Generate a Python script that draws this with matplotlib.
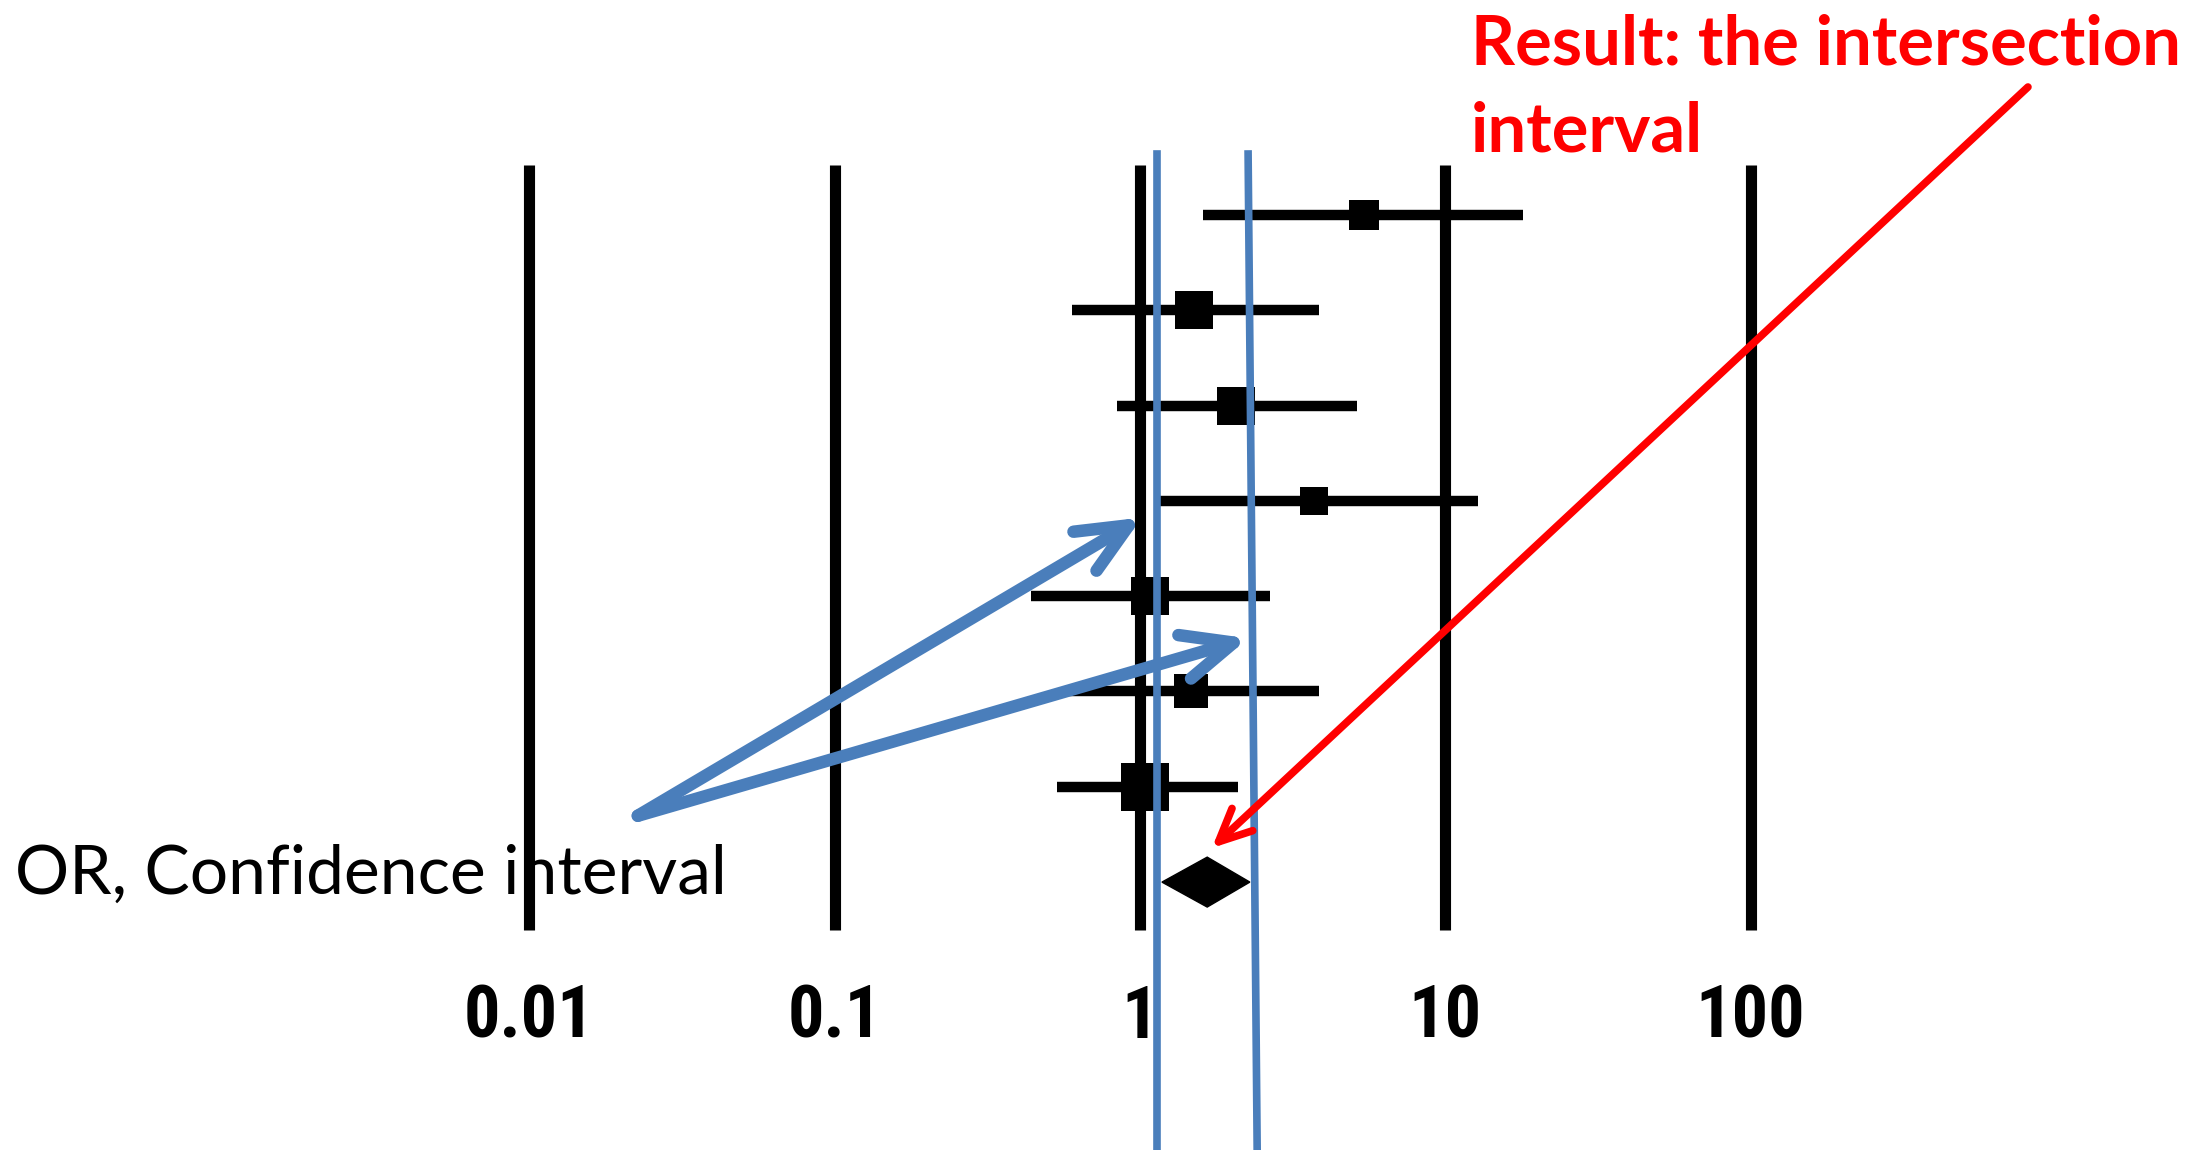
import matplotlib
matplotlib.use("Agg")
import matplotlib.pyplot as plt
from matplotlib import font_manager as fm
from matplotlib.patches import Polygon

# Individual studies, top to bottom: odds ratio and 95% confidence limits
odds_ratio = [5.40, 1.50, 2.06, 3.71, 1.08, 1.47, 1.04]
ci_lower = [1.61, 0.60, 0.84, 1.15, 0.44, 0.575, 0.536]
ci_upper = [18.0, 3.87, 5.13, 12.8, 2.67, 3.87, 2.10]

# Pooled estimate shown as a diamond
pooled_or = 1.66
pooled_lower = 1.18
pooled_upper = 2.29

# Guide lines bracketing the interval shared by the studies (top, bottom)
left_guide = (1.14, 1.14)
right_guide = (2.26, 2.42)

# Log-scale reference lines and their labels
tick_values = [0.01, 0.1, 1, 10, 100]
tick_labels = ["0.01", "0.1", "1", "10", "100"]

# Square size for each study (points)
square_sizes = [21, 28, 27, 20, 27, 25, 35]

BLUE = "#4A7EBB"
RED = "#FF0000"


def narrow_bold_font():
    """Pick a condensed sans-serif for the axis numbers, if one is installed."""
    names = {f.name for f in fm.fontManager.ttflist}
    for cand in ["Liberation Sans Narrow", "Arial Narrow", "Roboto Condensed",
                 "Open Sans Condensed", "Noto Sans Condensed"]:
        if cand in names:
            return fm.FontProperties(family=cand, weight="bold", size=52), True
    for f in fm.fontManager.ttflist:
        if f.stretch in ("condensed", "semi-condensed") and f.name in (
                "Liberation Sans", "Roboto", "Noto Sans", "Open Sans", "DejaVu Sans"):
            return fm.FontProperties(family=f.name, weight="bold",
                                     stretch=f.stretch, size=52), True
    return fm.FontProperties(family="Liberation Sans", weight="bold", size=47), False


W, H = 2198, 1150
fig = plt.figure(figsize=(W / 100, H / 100), dpi=100)
ax = fig.add_axes([0, 1 - 960 / H, 1, 960 / H])
ax.set_xscale("log")
ax.set_xlim(10 ** (-1140 / 305.3), 10 ** ((W - 1140) / 305.3))
ax.set_ylim(745 / 95.3, -215 / 95.3)
for s in ax.spines.values():
    s.set_visible(False)
ax.set_yticks([])
ax.set_xticks(tick_values)
ax.set_xticklabels(tick_labels)
ax.xaxis.set_minor_locator(matplotlib.ticker.NullLocator())
ax.tick_params(axis="x", length=0, pad=17)
tick_font, _ = narrow_bold_font()
for lab in ax.get_xticklabels():
    lab.set_fontproperties(tick_font)

n = len(odds_ratio)
rows = list(range(n))
grid_top, grid_bottom = -0.525, n + 0.503

# vertical reference lines at each decade
ax.vlines(tick_values, grid_top, grid_bottom, color="black", lw=8, zorder=1)

# confidence intervals and point estimates
ax.hlines(rows, ci_lower, ci_upper, color="black", lw=7.5, zorder=2)
for r, v, s in zip(rows, odds_ratio, square_sizes):
    ax.plot(v, r, marker="s", ms=s, mew=0, color="black", zorder=3)

# pooled diamond
yd = n
h = 0.262
ax.add_patch(Polygon([(pooled_lower, yd), (pooled_or, yd - h),
                      (pooled_upper, yd), (pooled_or, yd + h)],
                     closed=True, facecolor="black", edgecolor="black",
                     lw=1, zorder=3))

# blue guide lines running to the bottom of the figure
y_top_guide, y_bottom_guide = -0.64, (H - 215) / 95.3
ax.plot(left_guide, [y_top_guide, y_bottom_guide], color=BLUE, lw=5.5,
        clip_on=False, zorder=4)
ax.plot(right_guide, [y_top_guide, y_bottom_guide], color=BLUE, lw=5.5,
        clip_on=False, zorder=4)

# annotation arrows
tail = (0.02265, 6.304)
for head in [(1.015, 3.174), (2.263, 4.442)]:
    ax.annotate("", xy=head, xytext=tail, annotation_clip=False,
                arrowprops=dict(arrowstyle="->, head_length=1, head_width=0.445",
                                mutation_scale=36.6, lw=9, color=BLUE,
                                shrinkA=0, shrinkB=0, capstyle="round",
                                joinstyle="round"), zorder=5)

ax.annotate("", xy=(1.72, 6.642), xytext=(810, -1.343), annotation_clip=False,
            arrowprops=dict(arrowstyle="->, head_length=1, head_width=0.466",
                            mutation_scale=23.5, lw=5.5, color=RED,
                            shrinkA=0, shrinkB=0, capstyle="round",
                            joinstyle="round"), zorder=5)

fig.text(15 / W, 1 - 894 / H, "OR, Confidence interval", fontsize=48.8,
         family="Lato", color="black", ha="left", va="baseline")
fig.text(1471 / W, 1 - 152 / H, "Result: the intersection\ninterval",
         fontsize=49.5, family="Lato", fontweight="bold", color=RED,
         ha="left", va="baseline", linespacing=1.48)

fig.savefig("out.png", dpi=100)
